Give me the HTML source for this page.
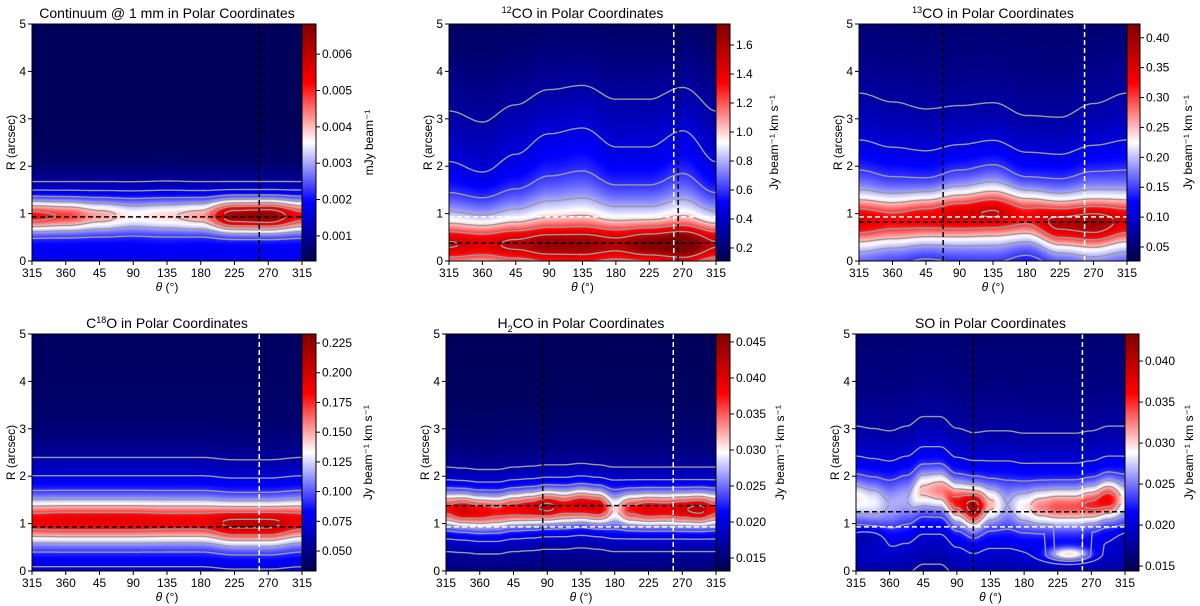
<!DOCTYPE html>
<html><head><meta charset="utf-8"><style>
body{margin:0;background:#fff;}
#wrap{position:relative;width:1200px;height:606px;overflow:hidden;font-family:"Liberation Sans",sans-serif;}
canvas,svg{position:absolute;left:0;top:0;}
</style></head><body>
<div id="wrap">
<canvas id="cv" width="1200" height="606"></canvas>
<svg id="sv" width="1200" height="606" xmlns="http://www.w3.org/2000/svg"></svg>
</div>
<script>
// ---- shared axis data ----
const thetaTickLabels = ['315','360','45','90','135','180','225','270','315'];
const rTickLabels = [0,1,2,3,4,5];
const contourLevels = [0.12,0.2,0.3,0.42,0.55,0.7,0.85];

// ---- panel 1: continuum (9 samples, 45 deg apart from 315) ----
const p1RingR   = [0.95,0.95,0.95,0.95,0.95,0.95,0.95,0.95,0.95];
const p1RingAmp = [0.35,0.3,0.2,0.12,0.14,0.2,0.55,0.58,0.35];
const p1Halo1   = [0.2,0.2,0.2,0.2,0.2,0.2,0.2,0.2,0.2];
const p1Halo2   = [0.17,0.17,0.17,0.17,0.18,0.17,0.17,0.17,0.17];
const p1CbTicks = ['0.001','0.002','0.003','0.004','0.005','0.006'];
const p1CbVals  = [0.001,0.002,0.003,0.004,0.005,0.006];
// ---- panel 2: 12CO ----
const p2RingR   = [0.35,0.35,0.35,0.35,0.35,0.35,0.35,0.35,0.35];
const p2RingAmp = [0.3,0.28,0.3,0.32,0.3,0.3,0.4,0.42,0.3];
const p2Halo1   = [0.3,0.3,0.3,0.3,0.3,0.3,0.3,0.3,0.3];
const p2Halo2   = [0.26,0.23,0.28,0.34,0.36,0.3,0.3,0.35,0.26];
const p2CbTicks = ['0.2','0.4','0.6','0.8','1.0','1.2','1.4','1.6'];
const p2CbVals  = [0.2,0.4,0.6,0.8,1.0,1.2,1.4,1.6];
// ---- panel 3: 13CO ----
const p3RingR   = [0.85,0.85,0.9,0.95,1.0,0.95,0.8,0.8,0.85];
const p3RingAmp = [0.37,0.35,0.4,0.4,0.4,0.37,0.47,0.47,0.37];
const p3Halo1   = [0.22,0.2,0.2,0.25,0.28,0.22,0.25,0.27,0.22];
const p3Halo2   = [0.2,0.18,0.16,0.16,0.16,0.14,0.15,0.18,0.2];
const p3CbTicks = ['0.05','0.10','0.15','0.20','0.25','0.30','0.35','0.40'];
const p3CbVals  = [0.05,0.10,0.15,0.20,0.25,0.30,0.35,0.40];
// ---- panel 4: C18O ----
const p4RingR   = [1.05,1.05,1.05,1.05,1.05,1.05,1.0,1.0,1.05];
const p4RingAmp = [0.4,0.42,0.42,0.42,0.4,0.4,0.5,0.5,0.4];
const p4Halo1   = [0.25,0.25,0.25,0.25,0.25,0.25,0.25,0.25,0.25];
const p4Halo2   = [0.1,0.1,0.1,0.1,0.1,0.1,0.1,0.1,0.1];
const p4CbTicks = ['0.050','0.075','0.100','0.125','0.150','0.175','0.200','0.225'];
const p4CbVals  = [0.05,0.075,0.1,0.125,0.15,0.175,0.2,0.225];
// ---- panel 5: H2CO (17 samples, 22.5 deg apart) ----
const p5RingR   = [1.3,1.28,1.25,1.25,1.3,1.32,1.35,1.35,1.38,1.35,1.3,1.3,1.3,1.3,1.3,1.3,1.3];
const p5RingAmp = [0.35,0.45,0.4,0.35,0.38,0.42,0.5,0.4,0.45,0.45,0.15,0.35,0.42,0.4,0.45,0.5,0.35];
const p5Halo1   = [0.27,0.27,0.27,0.27,0.27,0.27,0.27,0.27,0.27,0.27,0.27,0.27,0.27,0.27,0.27,0.27,0.27];
const p5Halo2   = [0.1,0.1,0.1,0.1,0.1,0.1,0.1,0.1,0.1,0.1,0.1,0.1,0.1,0.1,0.1,0.1,0.1];
const p5CbTicks = ['0.015','0.020','0.025','0.030','0.035','0.040','0.045'];
const p5CbVals  = [0.015,0.02,0.025,0.03,0.035,0.04,0.045];
// ---- panel 6: SO ----
const p6RingR   = [1.5,1.45,1.4,1.5,1.7,1.7,1.45,1.35,1.4,1.4,1.35,1.35,1.35,1.35,1.4,1.5,1.5];
const p6RingAmp = [0.15,0.12,0.05,0.05,0.2,0.25,0.35,0.5,0.2,0.05,0.15,0.25,0.3,0.3,0.35,0.4,0.15];
const p6Halo1   = [0.2,0.2,0.2,0.2,0.2,0.2,0.22,0.25,0.2,0.2,0.2,0.2,0.2,0.2,0.2,0.2,0.2];
const p6Halo2   = [0.12,0.12,0.12,0.12,0.12,0.12,0.12,0.12,0.12,0.12,0.12,0.12,0.12,0.12,0.12,0.12,0.12];
const p6CbTicks = ['0.015','0.020','0.025','0.030','0.035','0.040'];
const p6CbVals  = [0.015,0.02,0.025,0.03,0.035,0.04];

const panels = [
 {name:'continuum',title:'Continuum @ 1 mm in Polar Coordinates',x0:32,x1:302,y0:24,y1:261,cbx1:316,vmin:0.00031,vmax:0.00683,cbLabel:'mJy beam\u207B\u00B9',cbOff:57,
  R:p1RingR,A:p1RingAmp,H1:p1Halo1,H2:p1Halo2,w:0.3,w1:0.5,w2:0.8,base:0.02,inner:0.15,wi:0.45,blobs:[],ticks:p1CbTicks,tv:p1CbVals,
  lines:[{t:'h',v:0.93,c:'#000'},{t:'v',v:258,c:'#000'}]},
 {name:'12co',title:'<tspan font-size="9" dy="-5">12</tspan><tspan dy="5">CO in Polar Coordinates</tspan>',x0:449,x1:716,y0:24,y1:261,cbx1:730,vmin:0.11,vmax:1.745,cbLabel:'Jy beam\u207B\u00B9 km s\u207B\u00B9',cbOff:48,
  R:p2RingR,A:p2RingAmp,H1:p2Halo1,H2:p2Halo2,w:0.35,w1:0.9,w2:3.2,base:0,inner:0,wi:0.3,blobs:[],ticks:p2CbTicks,tv:p2CbVals,
  lines:[{t:'h',v:0.93,c:'#fff'},{t:'h',v:0.38,c:'#000'},{t:'v',v:258,c:'#fff'},{t:'v',v:264,c:'#000'}]},
 {name:'13co',title:'<tspan font-size="9" dy="-5">13</tspan><tspan dy="5">CO in Polar Coordinates</tspan>',x0:859,x1:1127,y0:24,y1:261,cbx1:1140,vmin:0.0266,vmax:0.423,cbLabel:'Jy beam\u207B\u00B9 km s\u207B\u00B9',cbOff:52,
  R:p3RingR,A:p3RingAmp,H1:p3Halo1,H2:p3Halo2,w:0.45,w1:1.2,w2:3.2,base:0.02,inner:0,wi:0.3,blobs:[],ticks:p3CbTicks,tv:p3CbVals,
  lines:[{t:'h',v:0.93,c:'#fff'},{t:'h',v:0.82,c:'#000'},{t:'v',v:68,c:'#000'},{t:'v',v:258,c:'#fff'}]},
 {name:'c18o',title:'C<tspan font-size="9" dy="-5">18</tspan><tspan dy="5">O in Polar Coordinates</tspan>',x0:32,x1:302,y0:334,y1:571,cbx1:316,vmin:0.0332,vmax:0.2326,cbLabel:'Jy beam\u207B\u00B9 km s\u207B\u00B9',cbOff:56,
  R:p4RingR,A:p4RingAmp,H1:p4Halo1,H2:p4Halo2,w:0.38,w1:1.0,w2:1.6,base:0.03,inner:0,wi:0.3,blobs:[],ticks:p4CbTicks,tv:p4CbVals,
  lines:[{t:'h',v:0.93,c:'#000'},{t:'v',v:258,c:'#fff'}]},
 {name:'h2co',title:'H<tspan font-size="9" dy="4">2</tspan><tspan dy="-4">CO in Polar Coordinates</tspan>',x0:446,x1:716,y0:334,y1:571,cbx1:730,vmin:0.0132,vmax:0.0461,cbLabel:'Jy beam\u207B\u00B9 km s\u207B\u00B9',cbOff:54,
  R:p5RingR,A:p5RingAmp,H1:p5Halo1,H2:p5Halo2,w:0.3,w1:0.6,w2:1.5,base:0.02,inner:0,wi:0.3,blobs:[],ticks:p5CbTicks,tv:p5CbVals,
  lines:[{t:'h',v:1.38,c:'#000'},{t:'h',v:0.93,c:'#fff'},{t:'v',v:84,c:'#000'},{t:'v',v:258,c:'#fff'}]},
 {name:'so',title:'SO in Polar Coordinates',x0:856,x1:1125,y0:334,y1:571,cbx1:1139,vmin:0.0144,vmax:0.0433,cbLabel:'Jy beam\u207B\u00B9 km s\u207B\u00B9',cbOff:54,
  R:p6RingR,A:p6RingAmp,H1:p6Halo1,H2:p6Halo2,w:0.35,w1:0.8,w2:2,base:0.05,inner:0,wi:0.3,
  blobs:[{u:285,r:0.35,a:0.35,wu:30,wr:0.15},{u:15,r:0.7,a:-0.1,wu:25,wr:0.2}],ticks:p6CbTicks,tv:p6CbVals,
  lines:[{t:'h',v:1.25,c:'#000'},{t:'h',v:0.93,c:'#fff'},{t:'v',v:112,c:'#000'},{t:'v',v:258,c:'#fff'}]}
];

function seismic(c){
  c=Math.max(0,Math.min(1,c));
  const s=[[0,0,0,77],[0.25,0,0,255],[0.5,255,255,255],[0.75,255,0,0],[1,128,0,0]];
  for(let i=0;i<4;i++){ if(c<=s[i+1][0]){ const f=(c-s[i][0])/(s[i+1][0]-s[i][0]);
    return [s[i][1]+f*(s[i+1][1]-s[i][1]),s[i][2]+f*(s[i+1][2]-s[i][2]),s[i][3]+f*(s[i+1][3]-s[i][3])]; } }
  return [128,0,0];
}
function interp(arr,u){ const n=arr.length-1; const p=u/360*n; const i=Math.min(n-1,Math.floor(p)); const f=p-i;
  const a=arr[i],b=arr[i+1]; const g=(1-Math.cos(f*Math.PI))/2; return a+(b-a)*g; }
function G(d,w){ return Math.exp(-(d/w)*(d/w)); }
function field(p,u,r){
  const R=interp(p.R,u);
  let v=p.base+interp(p.A,u)*G(r-R,p.w)+interp(p.H1,u)*G(r-R,p.w1)+interp(p.H2,u)*G(r-R,p.w2)+p.inner*G(r,p.wi);
  p.blobs.forEach(b=>{ let du=Math.abs(u-b.u); du=Math.min(du,360-du); v+=b.a*G(du,b.wu)*G(r-b.r,b.wr); });
  return v;
}
// axis functions
function xScale(p,theta){ const u=((theta-315)%360+360)%360; return p.x0+u/360*(p.x1-p.x0); }
function xU(p,u){ return p.x0+u/360*(p.x1-p.x0); }
function yScale(p,r){ return p.y1-r/5*(p.y1-p.y0); }

const cv=document.getElementById('cv'); const ctx=cv.getContext('2d');
const sv=document.getElementById('sv'); const NS='http://www.w3.org/2000/svg';
function el(tag,attrs,parent){ const e=document.createElementNS(NS,tag); for(const k in attrs) e.setAttribute(k,attrs[k]); (parent||sv).appendChild(e); return e; }

const defs=el('defs',{});
const lg=el('linearGradient',{id:'cmap',x1:0,y1:1,x2:0,y2:0},defs);
for(let i=0;i<=20;i++){ const c=seismic(i/20); el('stop',{offset:(i/20),'stop-color':`rgb(${c.map(Math.round).join(',')})`},lg); }

panels.forEach(p=>{
  const W=p.x1-p.x0, H=p.y1-p.y0;
  const img=ctx.createImageData(W,H);
  for(let j=0;j<H;j++){ const r=(p.y1-(p.y0+j+0.5))/H*5;
    for(let i=0;i<W;i++){ const u=(i+0.5)/W*360; const c=seismic(field(p,u,r)); const k=(j*W+i)*4;
      img.data[k]=c[0];img.data[k+1]=c[1];img.data[k+2]=c[2];img.data[k+3]=255; } }
  ctx.putImageData(img,p.x0,p.y0);

  const g=el('g',{});
  
  

  const cg=el('g',{fill:'none',stroke:'#9a9a9a','stroke-width':1.4},g);
  
  
  contourLevels.forEach(L=>{
    ['top','bot'].forEach(mode=>{
      let seg=[]; const segs=[];
      for(let u=0;u<=360;u+=2){
        let found=null; const N=250;
        if(mode==='top'){ let prev=field(p,u,5); if(prev<L){ for(let s=N-1;s>=0;s--){ const r=s*5/N; const v=field(p,u,r); if(v>=L){ found=r+(v-L)/(v-prev)*(5/N); break;} prev=v; } } }
        else { let prev=field(p,u,0); if(prev<L){ for(let s=1;s<=N;s++){ const r=s*5/N; const v=field(p,u,r); if(v>=L){ found=r-(v-L)/(v-prev)*(5/N); break;} prev=v; } } }
        if(found!==null){ seg.push(xU(p,u).toFixed(1)+','+yScale(p,found).toFixed(1)); } else if(seg.length){ segs.push(seg); seg=[]; }
      }
      if(seg.length) segs.push(seg);
      segs.forEach(s=>{ if(s.length>1){ const pl=el('polyline',{points:s.join(' ')},cg);
        
         } });
    });
  });

  p.lines.forEach(l=>{
    let ln;
    if(l.t==='h') ln=el('line',{x1:p.x0,x2:p.x1,y1:yScale(p,l.v),y2:yScale(p,l.v),stroke:l.c,'stroke-width':1.5,'stroke-dasharray':'5,3'},g);
    else ln=el('line',{x1:xScale(p,l.v),x2:xScale(p,l.v),y1:p.y0,y2:p.y1,stroke:l.c,'stroke-width':1.5,'stroke-dasharray':'5,3'},g);
    
    
  });

  const fr=el('rect',{x:p.x0,y:p.y0,width:W,height:H,fill:'none',stroke:'#000','stroke-width':1},g);
  
  

  thetaTickLabels.forEach((t,i)=>{ const x=p.x0+i/8*W;
    el('line',{x1:x,x2:x,y1:p.y1,y2:p.y1+4,stroke:'#000'},g);
    const tx=el('text',{x:x,y:p.y1+16,'text-anchor':'middle','font-size':12},g); tx.textContent=t;
    
     });
  const xl=el('text',{x:(p.x0+p.x1)/2,y:p.y1+30,'text-anchor':'middle','font-size':12},g);
  xl.innerHTML='<tspan font-style="italic">\u03B8</tspan> (\u00B0)';
  
  
  rTickLabels.forEach(r=>{ const y=yScale(p,r);
    el('line',{x1:p.x0-4,x2:p.x0,y1:y,y2:y,stroke:'#000'},g);
    const tx=el('text',{x:p.x0-6,y:y+4,'text-anchor':'end','font-size':12},g); tx.textContent=r;
    
     });
  const yl=el('text',{x:0,y:0,'text-anchor':'middle','font-size':12,transform:`translate(${p.x0-17},${(p.y0+p.y1)/2}) rotate(-90)`},g);
  yl.textContent='R (arcsec)';
  
  
  const ti=el('text',{x:(p.x0+p.x1)/2,y:p.y0-6,'text-anchor':'middle','font-size':14},g);
  ti.innerHTML=p.title;
  
  
  const cb=el('rect',{x:p.x1,y:p.y0,width:p.cbx1-p.x1,height:H,fill:'url(#cmap)',stroke:'#000','stroke-width':1},g);
  
  
  p.tv.forEach((v,i)=>{ const y=p.y1-(v-p.vmin)/(p.vmax-p.vmin)*H;
    el('line',{x1:p.cbx1,x2:p.cbx1+4,y1:y,y2:y,stroke:'#000'},g);
    const tx=el('text',{x:p.cbx1+6,y:y+4,'font-size':12},g); tx.textContent=p.ticks[i];
    
     });
  const cl=el('text',{x:0,y:0,'text-anchor':'middle','font-size':12,transform:`translate(${p.cbx1+p.cbOff},${(p.y0+p.y1)/2}) rotate(-90)`},g);
  cl.textContent=p.cbLabel;
  
  
});
</script>
</body></html>
